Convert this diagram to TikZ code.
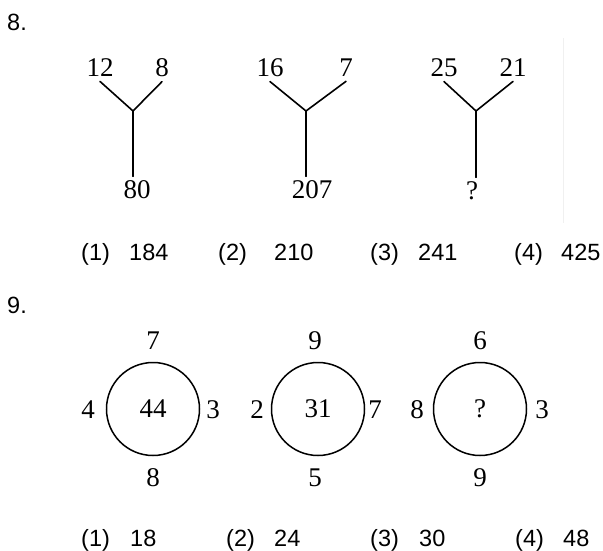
\documentclass[tikz,border=0pt]{standalone}
\usepackage{fontspec}
\setmainfont{Liberation Serif}
\setsansfont{Liberation Sans}

\tikzset{
    num/.style={font=\fontsize{27}{31}\selectfont, inner sep=2.5pt, outer sep=2pt},
    choice/.style={font=\sffamily\fontsize{23.5}{28}\selectfont, inner sep=0pt, anchor=base west},
    branch/.style={line width=1.6pt, line cap=round},
    ring/.style={circle, draw, line width=1.5pt, minimum size=93pt, inner sep=0pt,
        font=\fontsize{27}{31}\selectfont}
}

\begin{document}
\begin{tikzpicture}[x=1pt, y=-1pt]

    \useasboundingbox (0,0) rectangle (603,551);

    % Question numbers
    \node[choice, anchor=west] (q8) at (7,22) {8.};
    \node[choice, anchor=west] (q9) at (7,305) {9.};

    % Define the junctions of the branches
    \coordinate (j1) at (133,111);
    \coordinate (j2) at (306,111);
    \coordinate (j3) at (476,111);

    % Label the ends of the branches
    \node[num] (a1) at (100,68) {12};
    \node[num] (b1) at (162,68) {8};
    \node[num] (c1) at (137,190) {80};
    \node[num] (a2) at (270,68) {16};
    \node[num] (b2) at (346,68) {7};
    \node[num] (c2) at (312,190) {207};
    \node[num] (a3) at (444,68) {25};
    \node[num] (b3) at (513,68) {21};
    \node[num] (c3) at (472,191) {?};

    % Draw the branches
    \draw[branch] (a1.south) -- (j1) -- (b1.south);
    \draw[branch] (j1) -- (j1 |- c1.north);
    \draw[branch] (a2.south) -- (j2) -- (b2.south);
    \draw[branch] (j2) -- (j2 |- c2.north);
    \draw[branch] (a3.south) -- (j3) -- (b3.south);
    \draw[branch] (j3) -- (j3 |- c3.north);

    % Faint rule beside the third figure
    \coordinate (r1) at (563,38);
    \coordinate (r2) at (563,223);
    \draw[gray!12, line width=0.8pt] (r1) -- (r2);

    % Answer choices of question 8
    \node[choice] (o81) at (81,260) {(1)};
    \node[choice] (v81) at (129,260) {184};
    \node[choice] (o82) at (218,260) {(2)};
    \node[choice] (v82) at (274,260) {210};
    \node[choice] (o83) at (370,260) {(3)};
    \node[choice] (v83) at (418,260) {241};
    \node[choice] (o84) at (514,260) {(4)};
    \node[choice] (v84) at (561,260) {425};

    % Draw the circles with their inner numbers
    \node[ring] (k1) at (153,409) {44};
    \node[ring] (k2) at (318,409) {31};
    \node[ring] (k3) at (480,409) {?};

    % Numbers round the circles
    \node[num] (k1n) at (153,341) {7};
    \node[num] (k1w) at (88,410) {4};
    \node[num] (k1e) at (213,410) {3};
    \node[num] (k1s) at (153,478) {8};
    \node[num] (k2n) at (315,341) {9};
    \node[num] (k2w) at (257,410) {2};
    \node[num] (k2e) at (375,410) {7};
    \node[num] (k2s) at (315,478) {5};
    \node[num] (k3n) at (480,341) {6};
    \node[num] (k3w) at (417,410) {8};
    \node[num] (k3e) at (542,410) {3};
    \node[num] (k3s) at (480,478) {9};

    % Answer choices of question 9
    \node[choice] (o91) at (81,546) {(1)};
    \node[choice] (v91) at (130,546) {18};
    \node[choice] (o92) at (226,546) {(2)};
    \node[choice] (v92) at (274,546) {24};
    \node[choice] (o93) at (370,546) {(3)};
    \node[choice] (v93) at (419,546) {30};
    \node[choice] (o94) at (515,546) {(4)};
    \node[choice] (v94) at (563,546) {48};

\end{tikzpicture}
\end{document}
